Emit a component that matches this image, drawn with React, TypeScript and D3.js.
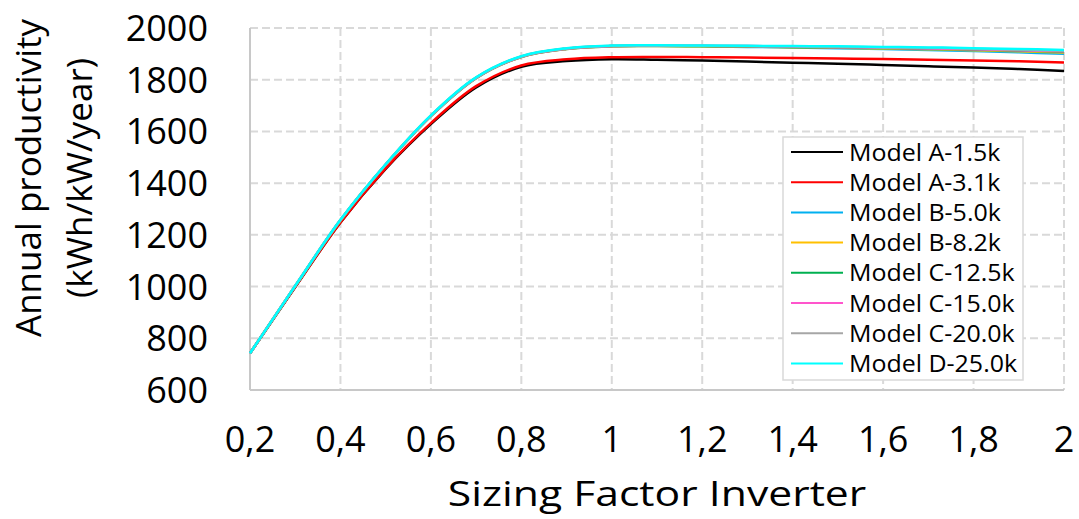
import React, { useEffect, useRef } from "react";
import * as d3 from "d3";

// sizing factor of the inverter (x)
const sizingFactors = [0.2, 0.3, 0.4, 0.5, 0.6, 0.7, 0.8, 0.9, 1.0, 1.1, 1.2, 1.3, 1.4, 1.5, 1.6, 1.7, 1.8, 1.9, 2.0];

// annual productivity per model (kWh/kW/year)
const modelA15 = [742, 998, 1248, 1455, 1628, 1770, 1850, 1872, 1879, 1877, 1874, 1870, 1866, 1862, 1857, 1852, 1847, 1841, 1834];
const modelA31 = [742, 998, 1248, 1457, 1632, 1775, 1855, 1879, 1887, 1888, 1887, 1886, 1884, 1882, 1880, 1877, 1874, 1871, 1867];
const modelB50 = [742, 1002, 1256, 1471, 1659, 1806, 1888, 1919, 1929, 1930, 1929, 1927, 1925, 1922, 1919, 1915, 1911, 1906, 1900];
const modelB82 = [742, 1002, 1256, 1471, 1659, 1806, 1888, 1919, 1929, 1930, 1929, 1928, 1926, 1924, 1921, 1918, 1914, 1910, 1905];
const modelC125 = [742, 1002, 1257, 1472, 1660, 1807, 1889, 1920, 1930, 1931, 1930, 1929, 1927, 1925, 1923, 1920, 1917, 1913, 1909];
const modelC150 = [742, 1003, 1257, 1472, 1660, 1807, 1889, 1920, 1930, 1931, 1931, 1930, 1928, 1926, 1924, 1921, 1918, 1914, 1910];
const modelC200 = [742, 1003, 1258, 1473, 1661, 1808, 1890, 1921, 1931, 1932, 1931, 1930, 1929, 1927, 1925, 1923, 1920, 1916, 1912];
const modelD250 = [742, 1003, 1258, 1473, 1662, 1809, 1891, 1922, 1932, 1933, 1932, 1931, 1930, 1929, 1927, 1925, 1922, 1919, 1915];

const seriesNames = [
    "Model A-1.5k",
    "Model A-3.1k",
    "Model B-5.0k",
    "Model B-8.2k",
    "Model C-12.5k",
    "Model C-15.0k",
    "Model C-20.0k",
    "Model D-25.0k",
];
const seriesValues = [modelA15, modelA31, modelB50, modelB82, modelC125, modelC150, modelC200, modelD250];
const seriesColors = ["#000000", "#ff0000", "#00b0f0", "#ffc000", "#00b050", "#ff55cc", "#a6a6a6", "#00ffff"];

const xTicks = [0.2, 0.4, 0.6, 0.8, 1.0, 1.2, 1.4, 1.6, 1.8, 2.0];
const yTicks = [600, 800, 1000, 1200, 1400, 1600, 1800, 2000];

const App = () => {
    const chartRef = useRef<SVGSVGElement>(null);

    useEffect(() => {
        const svg = d3.select(chartRef.current);
        svg.selectAll("*").remove();

        const width = 1079;
        const height = 519;
        const plot = { left: 250, right: 1064, top: 28, bottom: 390 };
        const font = "'Open Sans', sans-serif";

        const x = d3.scaleLinear().domain([0.2, 2]).range([plot.left, plot.right]);
        const y = d3.scaleLinear().domain([600, 2000]).range([plot.bottom, plot.top]);

        svg.attr("width", width).attr("height", height);

        // gridlines
        const grid = svg.append("g").attr("stroke", "#d9d9d9").attr("stroke-width", 2).attr("stroke-dasharray", "8,4");
        grid.selectAll("line.h")
            .data(yTicks.slice(1))
            .join("line")
            .attr("class", "h")
            .attr("x1", plot.left)
            .attr("x2", plot.right)
            .attr("y1", (d) => y(d))
            .attr("y2", (d) => y(d));
        grid.selectAll("line.v")
            .data(xTicks.slice(1))
            .join("line")
            .attr("class", "v")
            .attr("x1", (d) => x(d))
            .attr("x2", (d) => x(d))
            .attr("y1", plot.top)
            .attr("y2", plot.bottom);

        // axis lines
        svg.append("line")
            .attr("x1", plot.left).attr("x2", plot.left)
            .attr("y1", plot.top).attr("y2", plot.bottom)
            .attr("stroke", "#c8c8c8").attr("stroke-width", 2);
        svg.append("line")
            .attr("x1", plot.left).attr("x2", plot.right)
            .attr("y1", plot.bottom).attr("y2", plot.bottom)
            .attr("stroke", "#c8c8c8").attr("stroke-width", 2);

        // helper for (optionally stretched) text
        const addText = (parent, tx, ty, str, size, anchor, rotate = 0, sx = 1) =>
            parent.append("text")
                .attr("transform", `translate(${tx},${ty}) rotate(${rotate}) scale(${sx},1)`)
                .attr("text-anchor", anchor)
                .attr("font-family", font)
                .attr("font-size", size)
                .attr("fill", "#000")
                .text(str);

        // y tick labels
        const yLab = svg.append("g");
        yTicks.forEach((t) => addText(yLab, 208, y(t) + 13, String(t), 36, "end"));

        // x tick labels
        const xLab = svg.append("g");
        xTicks.forEach((t) => addText(xLab, x(t), 452, String(t).replace(".", ","), 36, "middle"));

        // axis titles
        addText(svg, 657, 506, "Sizing Factor Inverter", 35, "middle", 0, 1.22);
        addText(svg, 41, 178, "Annual productivity", 35, "middle", -90);
        addText(svg, 92, 178, "(kWh/kW/year)", 35, "middle", -90);

        // lines
        const line = d3
            .line<number>()
            .x((d, i) => x(sizingFactors[i]))
            .y((d) => y(d))
            .curve(d3.curveCatmullRom.alpha(0.5));

        svg.append("g")
            .selectAll("path")
            .data(seriesValues)
            .join("path")
            .attr("d", (d) => line(d))
            .attr("fill", "none")
            .attr("stroke", (d, i) => seriesColors[i])
            .attr("stroke-width", 2.5);

        // legend
        const legend = svg.append("g");
        legend.append("rect")
            .attr("x", 783).attr("y", 137)
            .attr("width", 240).attr("height", 243)
            .attr("fill", "#fff")
            .attr("stroke", "#d9d9d9")
            .attr("stroke-width", 1.5);
        seriesNames.forEach((name, i) => {
            const ly = 152 + i * 30.2;
            legend.append("line")
                .attr("x1", 791).attr("x2", 843)
                .attr("y1", ly).attr("y2", ly)
                .attr("stroke", seriesColors[i])
                .attr("stroke-width", 2);
            legend.append("text")
                .attr("transform", `translate(849,${ly + 8.5}) scale(1.04,1)`)
                .attr("font-family", font)
                .attr("font-size", 24)
                .attr("fill", "#000")
                .text(name);
        });
    }, []);

    return (
        <div style={{ position: "absolute", left: 0, top: 0 }}>
            <svg ref={chartRef}></svg>
        </div>
    );
};

export default App;
